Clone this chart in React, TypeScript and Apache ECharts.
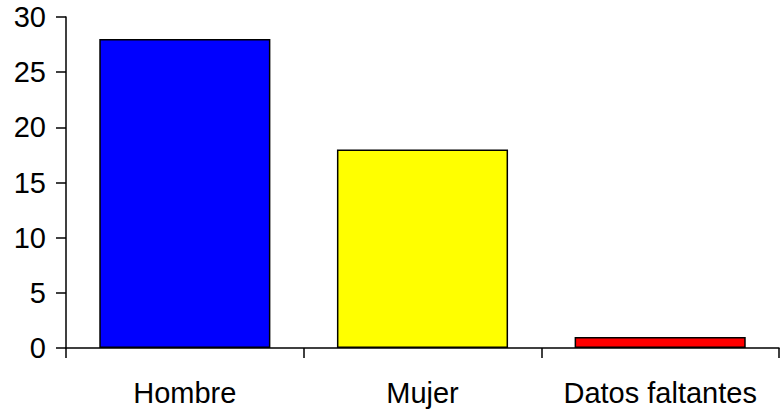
import React, { useEffect, useRef } from "react";
import * as echarts from "echarts";

const categories = ["Hombre", "Mujer", "Datos faltantes"];
const values = [28, 18, 1];
const barColors = ["#0000FF", "#FFFF00", "#FF0000"];

const App: React.FC = () => {
  const chartRef = useRef<HTMLDivElement | null>(null);

  useEffect(() => {
    if (!chartRef.current) return;
    const chart = echarts.init(chartRef.current, undefined, { renderer: "svg" });
    const font = { fontFamily: "Liberation Sans, Arial, sans-serif", fontSize: 29, color: "#000" };
    chart.setOption({
      animation: false,
      grid: { left: 66, top: 17, right: 1, bottom: 64 },
      xAxis: {
        type: "category",
        data: categories,
        axisLine: { lineStyle: { color: "#000", width: 1.5 } },
        axisTick: { show: true, length: 10, inside: false, lineStyle: { color: "#000", width: 1.5 } },
        axisLabel: { ...font, margin: 30, interval: 0, hideOverlap: false },
      },
      yAxis: {
        type: "value",
        min: 0,
        max: 30,
        interval: 5,
        splitLine: { show: false },
        axisLine: { show: true, lineStyle: { color: "#000", width: 1.5 } },
        axisTick: { show: true, length: 10, lineStyle: { color: "#000", width: 1.5 } },
        axisLabel: { ...font, margin: 20 },
      },
      series: [
        {
          type: "bar",
          barWidth: "72%",
          data: values.map((v, i) => ({
            value: v,
            itemStyle: { color: barColors[i], borderColor: "#000", borderWidth: 1.5 },
          })),
        },
      ],
    });
    return () => chart.dispose();
  }, []);

  return (
    <div
      ref={chartRef}
      style={{ position: "fixed", left: 0, top: 0, width: "780px", height: "412px", background: "#fff" }}
    />
  );
};

export default App;
